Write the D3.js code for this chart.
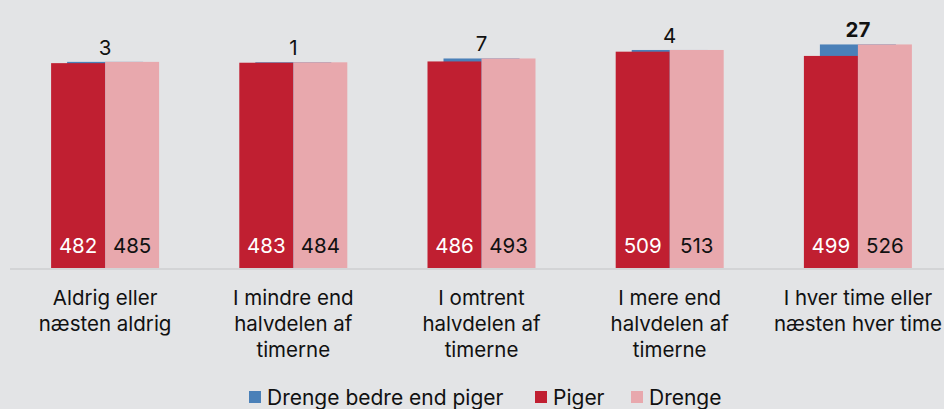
<!DOCTYPE html>
<html>
<head>
<meta charset="utf-8">
<script src="https://cdn.jsdelivr.net/npm/d3@7"></script>
<style>
  body { margin: 0; background: #e3e4e6; }
  svg { display: block; font-family: Inter, "Noto Sans", sans-serif; }
</style>
</head>
<body>
<div id="chart"></div>
<script>
var svgWidth = 944;
var svgHeight = 409;

// data
var categories = [
  ["Aldrig eller", "næsten aldrig"],
  ["I mindre end", "halvdelen af", "timerne"],
  ["I omtrent", "halvdelen af", "timerne"],
  ["I mere end", "halvdelen af", "timerne"],
  ["I hver time eller", "næsten hver time"]
];
var piger = [482, 483, 486, 509, 499];
var drenge = [485, 484, 493, 513, 526];
var diff = [3, 1, 7, 4, 27];
var boldDiff = [false, false, false, false, true];

var seriesNames = ["Drenge bedre end piger", "Piger", "Drenge"];
var colors = ["#4a80b8", "#c01f31", "#e8a8ad"];

var margin = { top: 13, bottom: 141, left: 11 };
var plotBottom = svgHeight - margin.bottom;

var svg = d3.select("#chart")
  .append("svg")
  .attr("width", svgWidth)
  .attr("height", svgHeight);

svg.append("rect")
  .attr("width", svgWidth)
  .attr("height", svgHeight)
  .attr("fill", "#e3e4e6");

var xScale = d3.scaleBand()
  .domain(d3.range(categories.length))
  .range([margin.left, margin.left + 188.2 * categories.length])
  .padding(0);

var yScale = d3.scaleLinear()
  .domain([0, 600])
  .range([plotBottom, margin.top]);

var barW = 54;
var blueW = 76;
var center = i => xScale(i) + xScale.bandwidth() / 2;

// baseline
svg.append("line")
  .attr("x1", 10)
  .attr("x2", svgWidth)
  .attr("y1", yScale(0) + 1)
  .attr("y2", yScale(0) + 1)
  .attr("stroke", "#d3d4d6")
  .attr("stroke-width", 2);

var groups = svg.selectAll("g.grp")
  .data(d3.range(categories.length))
  .enter()
  .append("g")
  .attr("class", "grp");

// blue difference bar, stacked on piger, behind the two bars
groups.append("rect")
  .attr("x", i => center(i) - blueW / 2)
  .attr("y", i => yScale(piger[i] + diff[i]))
  .attr("width", blueW)
  .attr("height", i => yScale(0) - yScale(piger[i] + diff[i]))
  .attr("fill", colors[0]);

groups.append("rect")
  .attr("x", i => center(i) - barW)
  .attr("y", i => yScale(piger[i]))
  .attr("width", barW)
  .attr("height", i => yScale(0) - yScale(piger[i]))
  .attr("fill", colors[1]);

groups.append("rect")
  .attr("x", i => center(i))
  .attr("y", i => yScale(drenge[i]))
  .attr("width", barW)
  .attr("height", i => yScale(0) - yScale(drenge[i]))
  .attr("fill", colors[2]);

// value labels inside bars
groups.append("text")
  .attr("x", i => center(i) - barW / 2)
  .attr("y", yScale(0) - 15)
  .attr("text-anchor", "middle")
  .attr("font-size", "20.5px")
  .attr("fill", "#ffffff")
  .text(i => piger[i]);

groups.append("text")
  .attr("x", i => center(i) + barW / 2)
  .attr("y", yScale(0) - 15)
  .attr("text-anchor", "middle")
  .attr("font-size", "20.5px")
  .attr("fill", "#111111")
  .text(i => drenge[i]);

// difference labels on top
groups.append("text")
  .attr("x", i => center(i))
  .attr("y", i => yScale(piger[i] + diff[i]) - 7)
  .attr("text-anchor", "middle")
  .attr("font-size", "20.5px")
  .attr("font-weight", i => boldDiff[i] ? "bold" : "normal")
  .attr("fill", "#111111")
  .text(i => diff[i]);

// category labels
groups.append("text")
  .attr("text-anchor", "middle")
  .attr("font-size", "20.5px")
  .attr("fill", "#111111")
  .selectAll("tspan")
  .data(i => categories[i].map(t => ({ t: t, x: center(i) })))
  .enter()
  .append("tspan")
  .attr("x", d => d.x)
  .attr("y", (d, j) => 305 + j * 26)
  .text(d => d.t);

// legend
var legendX = [249, 535, 631];
var legend = svg.selectAll("g.leg")
  .data(seriesNames)
  .enter()
  .append("g")
  .attr("class", "leg")
  .attr("transform", (d, i) => `translate(${legendX[i]}, 391)`);

legend.append("rect")
  .attr("width", 12)
  .attr("height", 12)
  .attr("fill", (d, i) => colors[i]);

legend.append("text")
  .attr("x", 18)
  .attr("y", 14)
  .attr("font-size", "21px")
  .attr("fill", "#111111")
  .text(d => d);
</script>
</body>
</html>
